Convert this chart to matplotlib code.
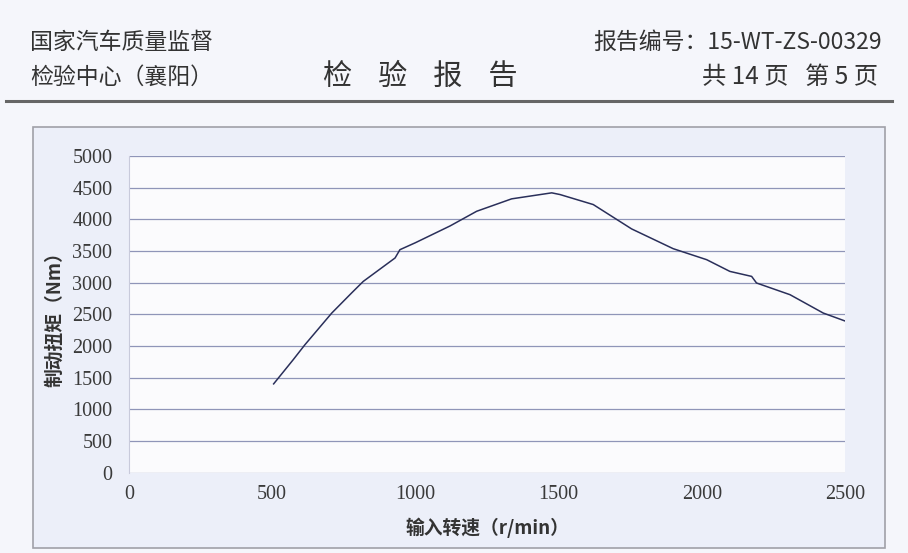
import matplotlib.pyplot as plt
from matplotlib.patches import Rectangle
from matplotlib.lines import Line2D

# header texts
org_line1 = "国家汽车质量监督"
org_line2 = "检验中心（襄阳）"
title = "检    验    报    告"
report_no = "报告编号：15-WT-ZS-00329"
page_info = "共 14 页   第 5 页"

# axis labels / ticks
xlabel = "输入转速（r/min）"
ylabel = "制动扭矩（Nm）"
xticks = [0, 500, 1000, 1500, 2000, 2500]
yticks = [0, 500, 1000, 1500, 2000, 2500, 3000, 3500, 4000, 4500, 5000]

# curve
speed = [505, 573, 614, 708, 777, 818, 929, 946, 1000, 1121, 1214, 1336,
         1476, 1505, 1621, 1755, 1900, 2017, 2098, 2174, 2191, 2308, 2424, 2498]
torque = [1400, 1780, 2017, 2519, 2835, 3019, 3389, 3520, 3630, 3895, 4127, 4323,
          4418, 4391, 4233, 3848, 3536, 3362, 3177, 3098, 2994, 2809, 2519, 2397]

cjk = ['Noto Sans CJK SC', 'DejaVu Sans']
num_font = 'Liberation Serif'
W, H = 908, 553

fig = plt.figure(figsize=(W / 100, H / 100), dpi=100)
fig.patch.set_facecolor('#f5f6fb')

def fx(px):
    return px / W

def fy(py):
    return 1 - py / H

# header
fig.text(fx(30), fy(42), org_line1, family=cjk, fontsize=16.5, color='#333333', va='center')
fig.text(fx(30), fy(77), org_line2, family=cjk, fontsize=16.5, color='#333333', va='center')
fig.text(fx(420), fy(77), title, family=cjk, fontsize=21, color='#333333',
         va='center', ha='center')
fig.text(fx(882), fy(42), report_no, family=cjk, fontsize=16.5, color='#333333',
         va='center', ha='right')
fig.text(fx(878), fy(77), page_info, family=cjk, fontsize=17.5, color='#333333',
         va='center', ha='right')
fig.add_artist(Line2D([fx(6), fx(892)], [fy(101), fy(101)], color='#666666', lw=2.2))

# chart area frame
frame = Rectangle((fx(33), fy(548)), fx(885 - 33), (548 - 127) / H,
                  facecolor='#eceff9', edgecolor='#a0a0a8', lw=1.2, zorder=-1)
fig.add_artist(frame)

ax = fig.add_axes([fx(129), fy(472.5), fx(845 - 129), (472.5 - 156) / H])
ax.set_zorder(2)
ax.set_facecolor('#fbfbfd')
ax.plot(speed, torque, color='#2a2f5a', lw=1.1)

ax.set_xlim(0, 2500)
ax.set_ylim(0, 5000)
ax.set_xticks(xticks)
ax.set_yticks(yticks)
ax.set_xticklabels([str(v) for v in xticks], family=num_font, fontsize=14.5, color='#3a3a3a')
ax.set_yticklabels([str(v) for v in yticks], family=num_font, fontsize=14.5, color='#3a3a3a')
ax.tick_params(length=0, pad=9)
ax.tick_params(axis='y', pad=12)
ax.grid(axis='y', color='#8f95b8', lw=0.9)
for s in ['top', 'right', 'bottom']:
    ax.spines[s].set_visible(False)
ax.spines['left'].set_color('#c8cadb')
ax.spines['left'].set_linewidth(0.8)

ax.set_xlabel(xlabel, family=cjk, fontsize=13.5, fontweight='bold', color='#333333', labelpad=10)
ax.set_ylabel(ylabel, family=cjk, fontsize=13.5, fontweight='bold', color='#333333', labelpad=6)

fig.savefig('out.png', dpi=100, facecolor=fig.get_facecolor())
